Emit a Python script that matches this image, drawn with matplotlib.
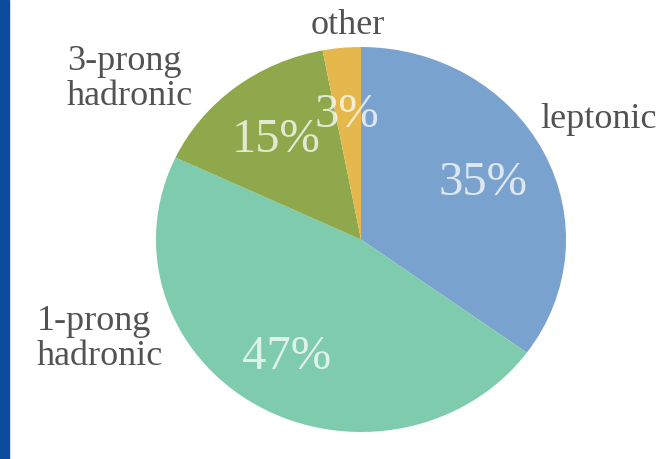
import matplotlib
matplotlib.use("Agg")
import matplotlib.pyplot as plt
from matplotlib.patches import Rectangle

# Tau decay modes (branching fractions, %)
modes = ["leptonic", "1-prong\nhadronic", "3-prong\nhadronic", "other"]
shares = [35, 47, 15, 3]
colors = ["#7aa2cf", "#7ecbad", "#8ea84b", "#e4b84c"]

W, H = 669, 459
# ellipse of the pie in pixels: centre and half-axes
CX, CY, RX, RY = 361, 239.5, 205, 192.5

# label anchors in pixels (x, y from top-left) and alignment
mode_pos = [(540, 119, "left"), (37, 339, "left"), (67, 79, "left"), (348, 25, "center")]
pct_pos = [(483, 183), (287, 357), (276, 140), (347, 115)]

fig = plt.figure(figsize=(W / 100, H / 100), dpi=100)
fig.patch.set_facecolor("white")
fig.patches.append(Rectangle((0, 0), 9 / W, 1, transform=fig.transFigure,
                             color="#0b4c9c", zorder=0))

ax = fig.add_axes([(CX - RX) / W, (H - CY - RY) / H, 2 * RX / W, 2 * RY / H])
wedges, texts, autotexts = ax.pie(
    shares, colors=colors, startangle=90, counterclock=False, radius=1,
    autopct=lambda p: f"{p:.0f}%", wedgeprops=dict(linewidth=0),
    textprops=dict(family="Liberation Serif", fontsize=35, color="white", alpha=0.75),
)
ax.set_aspect("auto")
ax.set_xlim(-1, 1)
ax.set_ylim(-1, 1)

# move the percentages to their spots
for t, (px, py) in zip(autotexts, pct_pos):
    t.set_position(((px - CX) / RX, (CY - py) / RY))
    t.set_ha("center")
    t.set_va("center")

for name, (px, py, ha) in zip(modes, mode_pos):
    fig.text(px / W, 1 - py / H, name, ha=ha, va="center", multialignment="left",
             family="Liberation Serif", fontsize=26, color="#525252",
             linespacing=1.1)

fig.savefig("out.png", dpi=100, facecolor="white")
